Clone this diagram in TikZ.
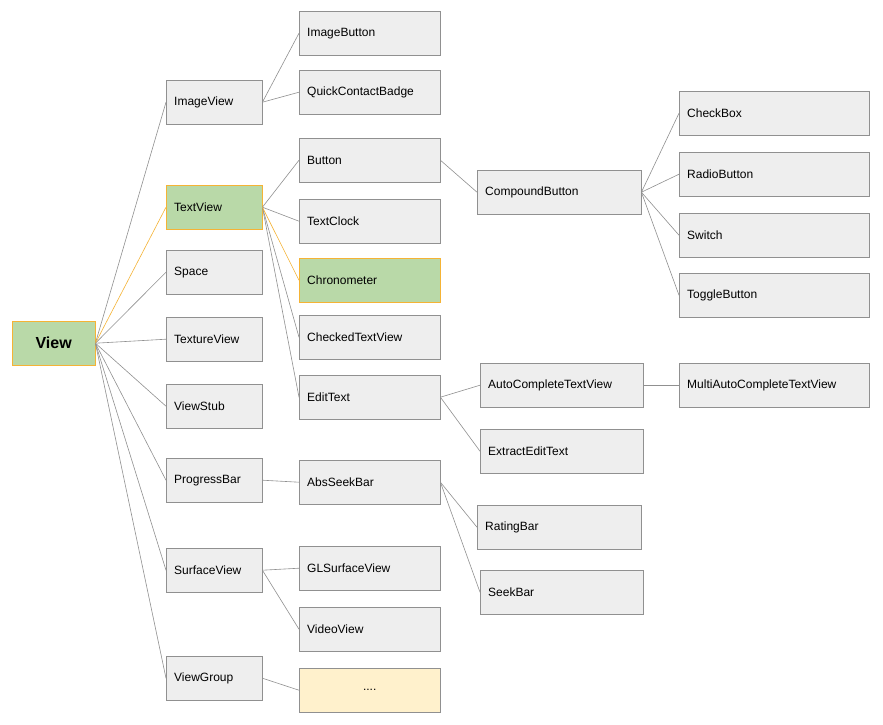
\documentclass[tikz,border=0pt]{standalone}
\usepackage{fontspec}
\setmainfont{Liberation Sans}
\usetikzlibrary{positioning}
\definecolor{boxfill}{HTML}{EEEEEE}
\definecolor{boxline}{HTML}{909090}
\definecolor{hlfill}{HTML}{B9D9A8}
\definecolor{hlline}{HTML}{F5B335}
\definecolor{dotfill}{HTML}{FFF1CC}
\tikzset{
  box/.style={draw=boxline, fill=boxfill, anchor=north west, minimum height=44pt,
    inner xsep=8pt, align=left, font=\fontsize{12}{14}\selectfont},
  hl/.style={fill=hlfill, draw=hlline},
  link/.style={draw=boxline, line width=0.6pt},
  hlink/.style={draw=hlline, line width=0.6pt},
}
\begin{document}
\begin{tikzpicture}[x=1pt,y=-1pt]
\fill[white] (0,0) rectangle (883,724);
\useasboundingbox (0,0) rectangle (883,724);
% root
\node[box, hl, text width=67pt, font=\fontsize{16}{18}\selectfont\bfseries, align=center] (view) at (12,321) {View};
% first level
\node[box, text width=80pt] (imageview) at (166,80) {ImageView};
\node[box, hl, text width=80pt] (textview) at (166,185) {TextView};
\node[box, text width=80pt] (space) at (166,250) {Space};
\node[box, text width=80pt] (textureview) at (166,317) {TextureView};
\node[box, text width=80pt] (viewstub) at (166,384) {ViewStub};
\node[box, text width=80pt] (progressbar) at (166,458) {ProgressBar};
\node[box, text width=80pt] (surfaceview) at (166,548) {SurfaceView};
\node[box, text width=80pt] (viewgroup) at (166,656) {ViewGroup};
% second level
\node[box, text width=125pt] (imagebutton) at (299,11) {ImageButton};
\node[box, text width=125pt] (quickbadge) at (299,70) {QuickContactBadge};
\node[box, text width=125pt] (button) at (299,138) {Button};
\node[box, text width=125pt] (textclock) at (299,199) {TextClock};
\node[box, hl, text width=125pt] (chronometer) at (299,258) {Chronometer};
\node[box, text width=125pt] (checkedtv) at (299,315) {CheckedTextView};
\node[box, text width=125pt] (edittext) at (299,375) {EditText};
\node[box, text width=125pt] (absseekbar) at (299,460) {AbsSeekBar};
\node[box, text width=125pt] (glsurface) at (299,546) {GLSurfaceView};
\node[box, text width=125pt] (videoview) at (299,607) {VideoView};
\node[box, fill=dotfill, text width=125pt, align=center] (more) at (299,668) {....};
% third level
\node[box, text width=148pt] (compound) at (477,170) {CompoundButton};
\node[box, text width=147pt] (autocomplete) at (480,363) {AutoCompleteTextView};
\node[box, text width=147pt] (extractedit) at (480,429) {ExtractEditText};
\node[box, text width=148pt] (ratingbar) at (477,505) {RatingBar};
\node[box, text width=147pt] (seekbar) at (480,570) {SeekBar};
% fourth level
\node[box, text width=174pt] (checkbox) at (679,91) {CheckBox};
\node[box, text width=174pt] (radiobutton) at (679,152) {RadioButton};
\node[box, text width=174pt] (switch) at (679,213) {Switch};
\node[box, text width=174pt] (togglebutton) at (679,273) {ToggleButton};
\node[box, text width=174pt] (multiauto) at (679,363) {MultiAutoCompleteTextView};
% connectors
\foreach \c in {imageview,space,textureview,viewstub,progressbar,surfaceview,viewgroup}
  \draw[link] (view.east) -- (\c.west);
\draw[hlink] (view.east) -- (textview.west);
\foreach \p/\c in {imageview/imagebutton, imageview/quickbadge,
    textview/button, textview/textclock, textview/checkedtv, textview/edittext,
    progressbar/absseekbar, surfaceview/glsurface, surfaceview/videoview,
    viewgroup/more, button/compound, edittext/autocomplete, edittext/extractedit,
    absseekbar/ratingbar, absseekbar/seekbar, compound/checkbox, compound/radiobutton,
    compound/switch, compound/togglebutton, autocomplete/multiauto}
  \draw[link] (\p.east) -- (\c.west);
\draw[hlink] (textview.east) -- (chronometer.west);
\end{tikzpicture}
\end{document}
